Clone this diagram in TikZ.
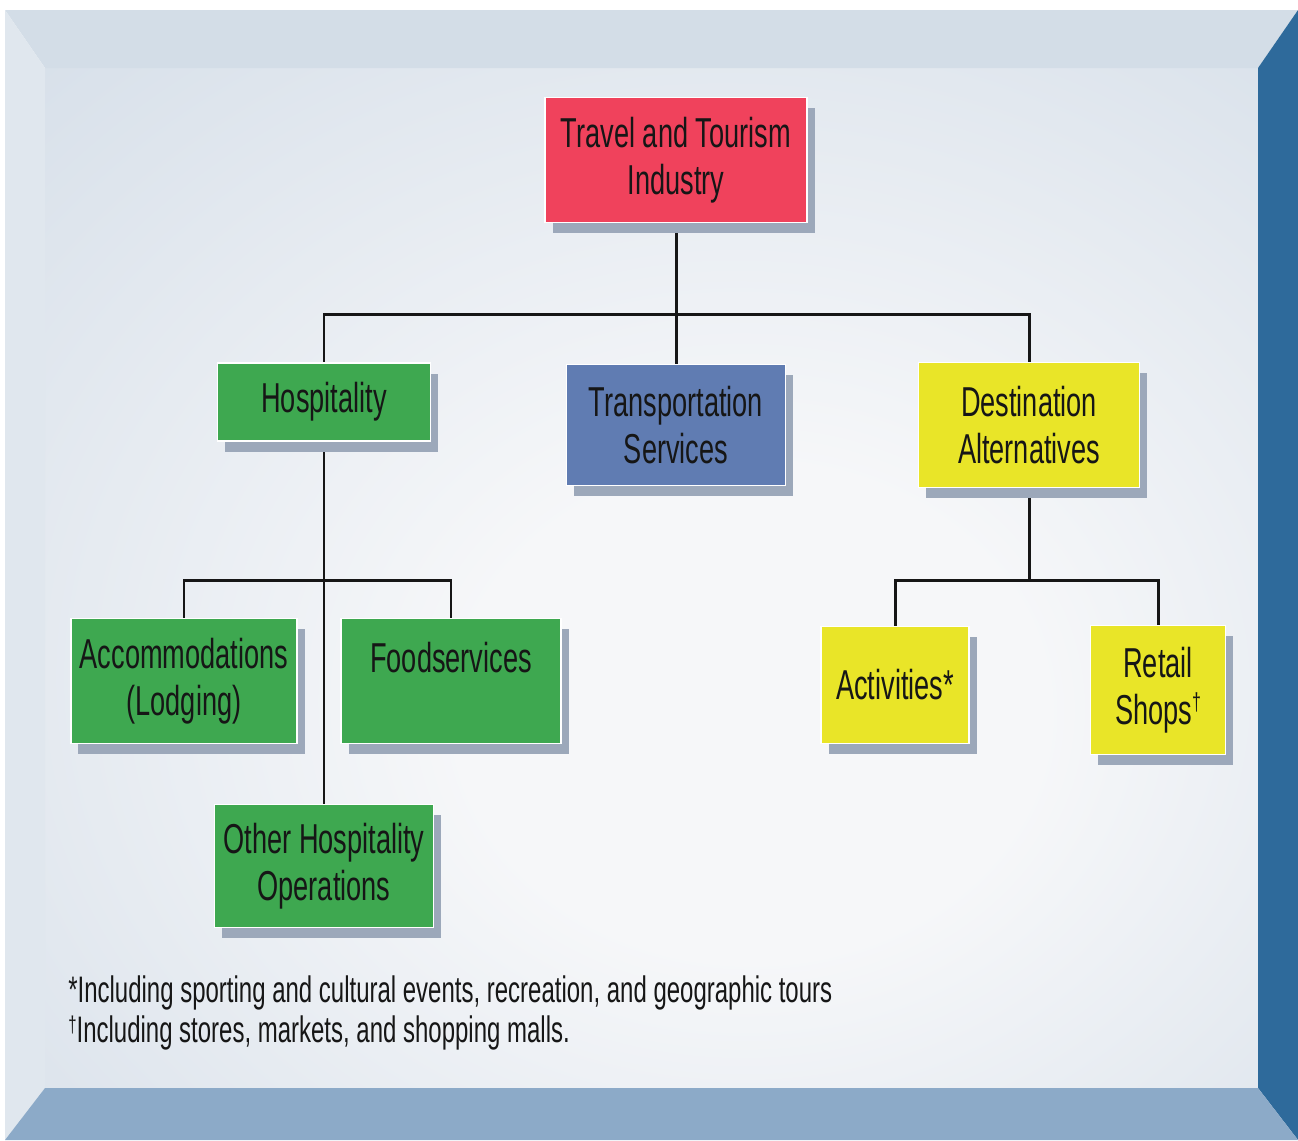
\documentclass[tikz,border=0pt]{standalone}
\usepackage{fontspec}
\setmainfont{Liberation Sans}[FakeStretch=0.65]
\usetikzlibrary{shadows,backgrounds}

\definecolor{panelout}{RGB}{210,220,231}
\definecolor{panelin}{RGB}{246,247,249}
\definecolor{bevtop}{RGB}{211,221,231}
\definecolor{bevleft}{RGB}{224,231,238}
\definecolor{bevright}{RGB}{46,106,155}
\definecolor{bevbot}{RGB}{140,170,200}
\definecolor{boxred}{RGB}{240,66,92}
\definecolor{boxgreen}{RGB}{62,168,80}
\definecolor{boxblue}{RGB}{96,124,178}
\definecolor{boxyellow}{RGB}{233,229,40}
\definecolor{shadowc}{RGB}{156,168,186}
\definecolor{ink}{RGB}{22,22,22}

% soft glow for the inner panel, slightly right of and below centre
\pgfdeclareradialshading{panelglow}{\pgfpoint{5bp}{-8bp}}{%
  color(0bp)=(panelin); color(12bp)=(panelin); color(45bp)=(panelout); color(70bp)=(panelout)}

\begin{document}
\begin{tikzpicture}[x=0.02cm,y=-0.02cm,
  box/.style={draw=white, line width=1.1pt, inner sep=0pt, align=center, text=ink,
    font=\fontsize{23.8}{26.4}\selectfont,
    drop shadow={shadow xshift=0.15cm, shadow yshift=-0.21cm, fill=shadowc, opacity=1}},
  dims/.style 2 args={minimum width=#1*0.02cm, minimum height=#2*0.02cm},
  conn/.style={draw=ink, line width=1.7pt},
  note/.style={anchor=base west, inner sep=0pt, text=ink, font=\fontsize{21}{22.7}\selectfont}]

\useasboundingbox (0,0) rectangle (1298,1140);

% bevelled frame and panel
\begin{scope}[on background layer]
  \fill[white] (0,0) rectangle (1298,1140);
  \shade[shading=panelglow] (45,68) rectangle (1258,1088);
  \fill[bevtop] (5,10) -- (1298,10) -- (1258,68) -- (45,68) -- cycle;
  \fill[bevleft] (5,10) -- (45,68) -- (45,1088) -- (5,1140) -- cycle;
  \fill[bevright] (1298,10) -- (1298,1140) -- (1258,1088) -- (1258,68) -- cycle;
  \fill[bevbot] (5,1140) -- (45,1088) -- (1258,1088) -- (1298,1140) -- cycle;
\end{scope}

% boxes
\node[box, fill=boxred, dims={262}{125}] (travel) at (676,160) {Travel and Tourism\\Industry};
\node[box, fill=boxgreen, dims={213}{78}] (hosp) at (324,402) {Hospitality};
\node[box, fill=boxblue, dims={219}{121}] (trans) at (676,425) {Transportation\\Services};
\node[box, fill=boxyellow, dims={221}{125}] (dest) at (1029,425) {Destination\\Alternatives};
\node[box, fill=boxgreen, dims={226}{125}] (accom) at (184,681) {Accommodations\\(Lodging)};
\node[box, fill=boxgreen, dims={220}{125}] (food) at (451,681) {Foodservices\\\mbox{}};
\node[box, fill=boxgreen, dims={219}{123}] (other) at (324,866) {Other Hospitality\\Operations};
\node[box, fill=boxyellow, dims={148}{117}] (act) at (895,685) {Activities*};
\node[box, fill=boxyellow, dims={135}{129}] (retail) at (1158,690)
  {Retail\\Shops\raisebox{0.6ex}{\fontsize{14}{14}\selectfont †}};

% footnotes
\node[note] (fn1) at (68,1002) {*Including sporting and cultural events, recreation, and geographic tours};
\node[note] (fn2) at (68,1042) {\raisebox{0.5ex}{\fontsize{13}{13}\selectfont †}Including stores, markets, and shopping malls.};

% connectors, kept beneath the boxes
\coordinate (bus1) at (676,314);
\coordinate (bus2) at (324,580);
\coordinate (bus3) at (1029,580);
\begin{scope}[on background layer]
  \draw[conn] (travel.center) -- (trans.center);
  \draw[conn] (hosp.center) |- (bus1) -| (dest.center);
  \draw[conn] (hosp.center) -- (other.center);
  \draw[conn] (accom.center) |- (bus2) -| (food.center);
  \draw[conn] (dest.center) -- (bus3);
  \draw[conn] (act.center) |- (bus3) -| (retail.center);
\end{scope}
\end{tikzpicture}
\end{document}
